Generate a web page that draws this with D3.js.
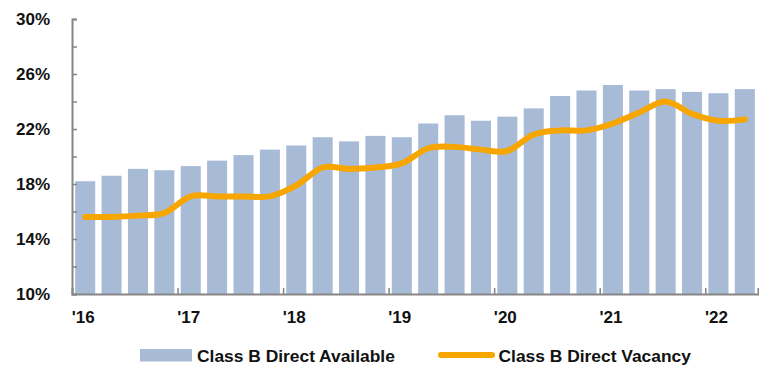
<!DOCTYPE html>
<html>
<head>
<meta charset="utf-8">
<script src="https://cdn.jsdelivr.net/npm/d3@7"></script>
<style>
  html, body { margin: 0; padding: 0; background: #fff; }
  svg { display: block; }
  text { font-family: "Liberation Sans", Arial, sans-serif; font-weight: bold; fill: #111; }
</style>
</head>
<body>
<svg id="chart" width="759" height="365"></svg>
<script>
// Quarterly periods, Q1 2016 through Q2 2022
const quarters = [
  "2016Q1","2016Q2","2016Q3","2016Q4",
  "2017Q1","2017Q2","2017Q3","2017Q4",
  "2018Q1","2018Q2","2018Q3","2018Q4",
  "2019Q1","2019Q2","2019Q3","2019Q4",
  "2020Q1","2020Q2","2020Q3","2020Q4",
  "2021Q1","2021Q2","2021Q3","2021Q4",
  "2022Q1","2022Q2"
];
// Class B direct available rate (%)
const directAvailable = [
  18.2, 18.6, 19.1, 19.0,
  19.3, 19.7, 20.1, 20.5,
  20.8, 21.4, 21.1, 21.5,
  21.4, 22.4, 23.0, 22.6,
  22.9, 23.5, 24.4, 24.8,
  25.2, 24.8, 24.9, 24.7,
  24.6, 24.9
];
// Class B direct vacancy rate (%)
const directVacancy = [
  15.6, 15.6, 15.7, 15.9,
  17.1, 17.1, 17.1, 17.1,
  17.9, 19.2, 19.1, 19.2,
  19.5, 20.6, 20.7, 20.5,
  20.4, 21.6, 21.9, 21.9,
  22.4, 23.2, 24.0, 23.1,
  22.6, 22.7
];
const yearLabels = ["'16","'17","'18","'19","'20","'21","'22"];
const yTicks = [10, 12, 14, 16, 18, 20, 22, 24, 26, 28, 30];
const seriesNames = ["Class B Direct Available", "Class B Direct Vacancy"];

const barColor = "#A7BBD7";
const lineColor = "#F7A600";
const axisColor = "#858585";

const svg = d3.select("#chart");
const plotLeft = 72, plotRight = 758, plotTop = 19, plotBottom = 294;

const x = d3.scaleBand().domain(quarters).range([plotLeft, plotRight])
  .paddingInner(0.24).paddingOuter(0.12);
const xPos = d3.scaleLinear().domain([0, quarters.length]).range([plotLeft, plotRight]);
const y = d3.scaleLinear().domain([10, 30]).range([plotBottom, plotTop]);

// Bars
svg.append("g").selectAll("rect")
  .data(quarters)
  .join("rect")
  .attr("x", d => x(d))
  .attr("width", x.bandwidth())
  .attr("y", (d, i) => y(directAvailable[i]))
  .attr("height", (d, i) => y(10) - y(directAvailable[i]))
  .attr("fill", barColor);

// Y axis: ticks every 2%, labels every 4%
const yAxis = svg.append("g")
  .attr("transform", `translate(${plotLeft},0)`)
  .call(d3.axisLeft(y).tickValues(yTicks).tickSize(-5).tickPadding(22)
    .tickFormat(d => (d - 10) % 4 === 0 ? d + "%" : ""));
yAxis.select(".domain").attr("stroke", axisColor).attr("stroke-width", 2);
yAxis.selectAll(".tick line").attr("stroke", axisColor).attr("stroke-width", 1.5);
yAxis.selectAll(".tick text").style("font-size", "17px").attr("fill", "#111")
  .attr("font-family", "Liberation Sans, Arial, sans-serif").attr("font-weight", "bold");

// X axis: tick marks at year boundaries
const xAxis = svg.append("g")
  .attr("transform", `translate(0,${plotBottom})`)
  .call(d3.axisBottom(xPos).tickValues([4, 8, 12, 16, 20, 24]).tickSize(-6).tickFormat(""));
xAxis.select(".domain").attr("stroke", axisColor).attr("stroke-width", 2);
xAxis.selectAll(".tick line").attr("stroke", axisColor).attr("stroke-width", 1.5);

// Year labels under each Q1 bar
svg.append("g").selectAll("text")
  .data(yearLabels)
  .join("text")
  .attr("x", (d, i) => x(quarters[i * 4]) + x.bandwidth() / 2 - 2)
  .attr("y", 323)
  .attr("text-anchor", "middle")
  .style("font-size", "17px")
  .text(d => d);

// Vacancy line
const line = d3.line()
  .x((d, i) => x(quarters[i]) + x.bandwidth() / 2)
  .y(d => y(d))
  .curve(d3.curveCardinal.tension(0));
svg.append("path")
  .datum(directVacancy)
  .attr("d", line)
  .attr("fill", "none")
  .attr("stroke", lineColor)
  .attr("stroke-width", 6)
  .attr("stroke-linecap", "round")
  .attr("stroke-linejoin", "round");

// Legend
const legend = svg.append("g");
legend.append("rect")
  .attr("x", 140).attr("y", 349).attr("width", 52).attr("height", 12.5)
  .attr("fill", barColor);
legend.append("text")
  .attr("x", 197).attr("y", 361.5)
  .style("font-size", "17.4px")
  .text(seriesNames[0]);
legend.append("line")
  .attr("x1", 441).attr("x2", 492).attr("y1", 355).attr("y2", 355)
  .attr("stroke", lineColor).attr("stroke-width", 6).attr("stroke-linecap", "round");
legend.append("text")
  .attr("x", 498.5).attr("y", 361.5)
  .style("font-size", "17.4px")
  .text(seriesNames[1]);
</script>
</body>
</html>
